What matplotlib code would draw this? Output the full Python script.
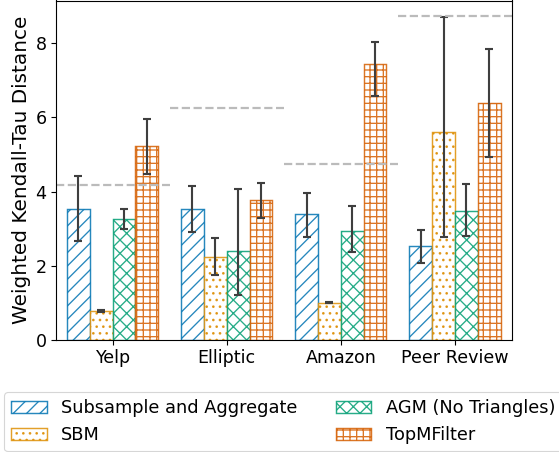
import numpy as np
import matplotlib
matplotlib.use("Agg")
import matplotlib.pyplot as plt

# Datasets and methods
datasets = ["Yelp", "Elliptic", "Amazon", "Peer Review"]
methods = ["Subsample and Aggregate", "SBM", "AGM (No Triangles)", "TopMFilter"]

# Mean weighted Kendall-Tau distance per method and dataset
subsample_mean = [3.54, 3.54, 3.40, 2.52]
sbm_mean = [0.78, 2.24, 1.01, 5.61]
agm_mean = [3.26, 2.41, 2.94, 3.49]
topm_mean = [5.23, 3.76, 7.43, 6.40]

# Error bar ends (lower, upper)
subsample_lo = [2.66, 2.90, 2.78, 2.08]
subsample_hi = [4.43, 4.15, 3.97, 2.97]
sbm_lo = [0.76, 1.74, 1.00, 2.77]
sbm_hi = [0.80, 2.74, 1.02, 8.70]
agm_lo = [2.98, 1.21, 2.37, 2.79]
agm_hi = [3.52, 4.08, 3.62, 4.21]
topm_lo = [4.47, 3.28, 6.58, 4.94]
topm_hi = [5.96, 4.24, 8.02, 7.84]

# Reference level for each dataset (dashed line)
baseline = [4.19, 6.24, 4.75, 8.73]

colors = ["#0173b2", "#de8f05", "#029e73", "#d55e00"]
hatches = ["//", "..", "xx", "++"]

means = [subsample_mean, sbm_mean, agm_mean, topm_mean]
lows = [subsample_lo, sbm_lo, agm_lo, topm_lo]
highs = [subsample_hi, sbm_hi, agm_hi, topm_hi]

plt.rcParams["hatch.linewidth"] = 1.2

DPI = 80
W, H = 559, 452
fig = plt.figure(figsize=(W / DPI, H / DPI), dpi=DPI)
ax = fig.add_axes([55.5 / W, 1 - 340 / H, (512 - 55.5) / W, (340 - 0.5) / H])

x = np.arange(len(datasets))
width = 0.2
offsets = [-1.5 * width, -0.5 * width, 0.5 * width, 1.5 * width]

for i in range(len(methods)):
    m = np.array(means[i])
    lo = m - np.array(lows[i])
    hi = np.array(highs[i]) - m
    ax.bar(x + offsets[i], m, width, color="white", edgecolor=colors[i],
           hatch=hatches[i], linewidth=1.3, alpha=0.85, label=methods[i])
    ax.errorbar(x + offsets[i], m, yerr=[lo, hi], fmt="none",
                ecolor="#3f3f3f", elinewidth=1.9, capsize=3.5, capthick=1.9)

for j, b in enumerate(baseline):
    ax.hlines(b, x[j] - 0.5, x[j] + 0.5, colors="#bbbbbb", linestyles="--",
              linewidth=2.0)

ax.set_xlim(-0.5, 3.5)
ax.set_ylim(0, 9.15)
ax.set_xticks(x)
ax.set_xticklabels(datasets, fontsize=15.8)
ax.set_yticks([0, 2, 4, 6, 8])
ax.tick_params(axis="both", labelsize=15.8, width=1.0, length=4.5)
for s in ax.spines.values():
    s.set_linewidth(1.0)
ax.set_ylabel("Weighted Kendall-Tau Distance", fontsize=18)

handles, labels = ax.get_legend_handles_labels()
fig.legend(handles, labels, ncol=2, fontsize=16, loc="upper left",
           borderaxespad=0, columnspacing=2.15,
           bbox_to_anchor=(4.3 / W, 1 - 392.3 / H))

fig.savefig("out.png", dpi=DPI)
